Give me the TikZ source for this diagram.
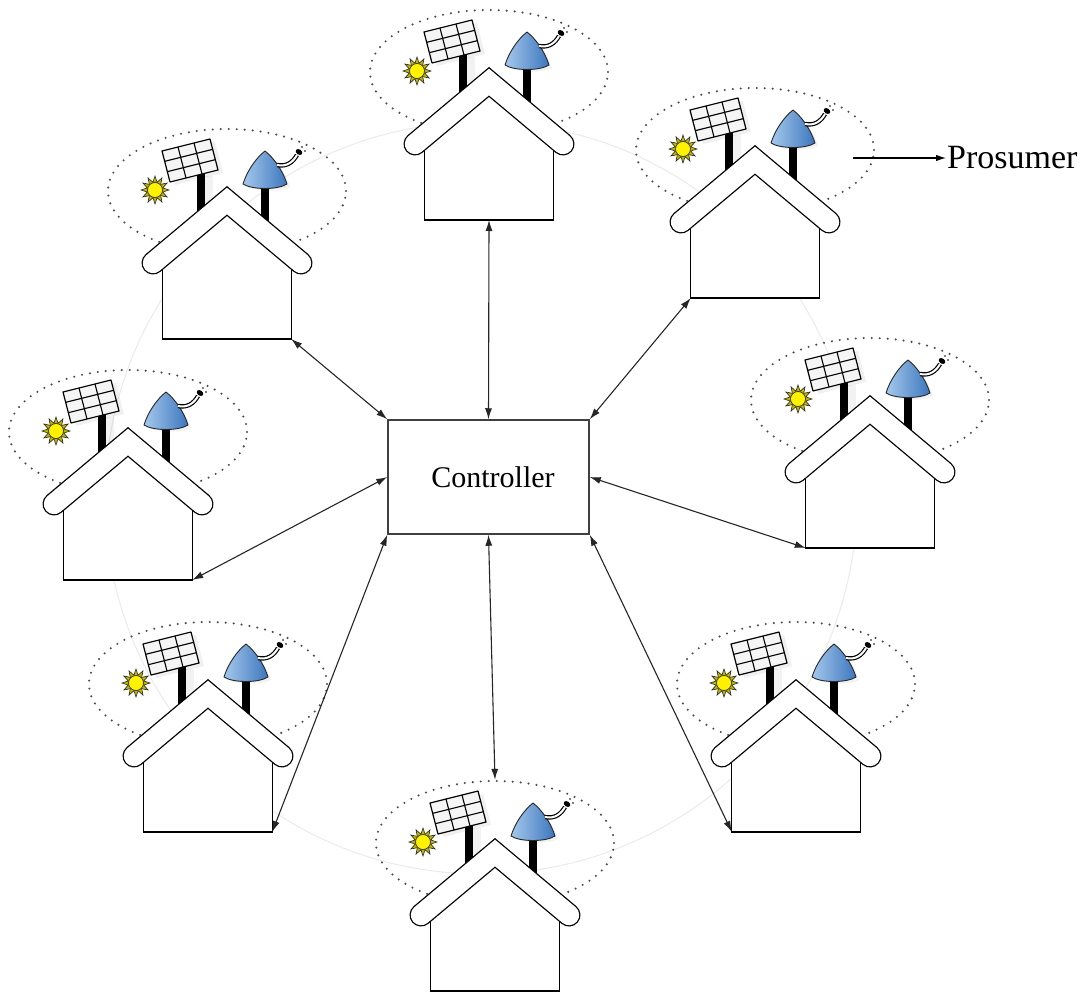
\documentclass[tikz,border=0pt]{standalone}
\usepackage{fontspec}
\setmainfont{Liberation Serif}
\usetikzlibrary{arrows.meta,shapes.geometric}
\definecolor{dishlight}{HTML}{A4C8EC}
\definecolor{dishdark}{HTML}{3D76BE}
\definecolor{sunyellow}{HTML}{FFF200}
\tikzset{
  halo/.style={ellipse, draw=black!70, line width=2.3pt, dash pattern=on 0pt off 8pt,
    line cap=round, minimum width=238pt, minimum height=124pt, inner sep=0pt},
  wall/.style={draw=black, line width=1.2pt, line join=miter},
  pole/.style={line width=7.5pt},
  link/.style={{Latex[length=11pt,width=7pt]}-{Latex[length=11pt,width=7pt]},
    line width=1.1pt, draw=black!85},
  house/.pic={
    % dotted boundary of the prosumer
    \node[halo] (-halo) at (0,5) {};
    % white house body
    \fill[white] (-64,153) -- (-64,80) -- (0,26) -- (64,80) -- (64,153) -- cycle;
    \node[inner sep=0pt, minimum width=128pt, minimum height=70pt, anchor=south] (-body) at (0,153) {};
    \draw[wall] (-body.north west) -- (-body.south west) -- (-body.south east) -- (-body.north east);
    % soft shadows of panel and dish
    \fill[black, opacity=0.06] (-52,-1) -- (-60,-32) -- (-12,-44) -- (-4,-13) -- cycle;
    \fill[black, opacity=0.05] (-22,-10) rectangle (-14,22);
    \fill[black, opacity=0.05] (22,1) .. controls (26,-12) and (34,-24) .. (42,-31)
      .. controls (51,-24) and (59,-12) .. (63,1) .. controls (54,6) and (30,6) .. (22,1) -- cycle;
    % poles
    \draw[pole] (-26,-12) -- (-26,30);
    \draw[pole] (38,0) -- (38,40);
    % roof
    \draw[line width=23pt, line cap=round, line join=miter] (-74,77) -- (0,15) -- (74,77);
    \draw[white, line width=20.4pt, line cap=round, line join=miter] (-74,77) -- (0,15) -- (74,77);
    % solar panel
    \filldraw[fill=black!4, draw=black, line width=1.2pt, line join=round]
      (-57,-4) -- (-9,-16) -- (-17,-47) -- (-65,-35) -- cycle;
    \draw[line width=1.1pt] (-41,-8) -- (-49,-39) (-25,-12) -- (-33,-43)
      (-59.67,-14.33) -- (-11.67,-26.33) (-62.33,-24.67) -- (-14.33,-36.67);
    % dish antenna
    \path[draw=black!85, line width=0.9pt, left color=dishlight, right color=dishdark, line join=round]
      (16,-2) .. controls (20,-15) and (29,-28) .. (38,-35)
      .. controls (47,-28) and (56,-15) .. (60,-2)
      .. controls (51,4) and (25,4) .. (16,-2) -- cycle;
    \draw[line width=1.2pt, double=white, double distance=2pt]
      (50,-21) .. controls (60,-19) and (66,-24) .. (70,-31);
    \fill[rotate around={-35:(72,-34)}] (72,-34) ellipse (3.6pt and 2.6pt);
    \fill (75,-39) circle (0.9pt) (78,-35) circle (0.9pt);
    % sun
    \node[star, star points=12, star point ratio=1.75, minimum size=28pt, inner sep=0pt,
      draw=black!85, fill=sunyellow!75!black, line width=0.6pt] at (-72,4) {};
    \filldraw[fill=sunyellow, draw=black!80, line width=0.7pt] (-72,4) circle (7.5pt);
  }
}
\begin{document}
\begin{tikzpicture}[x=1pt, y=-1pt]
  \useasboundingbox[fill=white] (0,0) rectangle (1086,992);
  % faint ring through the prosumers
  \draw[black!8, line width=1pt] (481,498) circle (376pt);

  \pic (h1) at (489,67) {house};
  \pic (h2) at (755,145) {house};
  \pic (h3) at (227,186) {house};
  \pic (h4) at (128,427) {house};
  \pic (h5) at (870,395) {house};
  \pic (h6) at (208,679) {house};
  \pic (h7) at (796,679) {house};
  \pic (h8) at (495,838) {house};

  \node[draw=black!75, fill=white, line width=1.5pt, minimum width=201pt, minimum height=114pt,
    font=\fontsize{30}{36}\selectfont] (ctrl) at (488.5,477) {\hspace*{9pt}Controller};

  \draw[link] (ctrl.north) -- (h1-body.south);
  \draw[link] (ctrl.north east) -- (h2-body.south west);
  \draw[link] (ctrl.east) -- (h5-body.south west);
  \draw[link] (ctrl.south east) -- (h7-body.south west);
  \draw[link] (ctrl.south) -- (h8-halo.north);
  \draw[link] (ctrl.south west) -- (h6-body.south east);
  \draw[link] (ctrl.west) -- (h4-body.south east);
  \draw[link] (ctrl.north west) -- (h3-body.south east);

  % label for one prosumer
  \coordinate (ptail) at (853,158);
  \node[anchor=west, inner sep=1pt, font=\fontsize{34}{40}\selectfont] (prosumer) at (946,158) {Prosumer};
  \draw[-{Latex[length=10pt,width=6.5pt]}, line width=1.1pt] (ptail) -- (prosumer.west);
\end{tikzpicture}
\end{document}
